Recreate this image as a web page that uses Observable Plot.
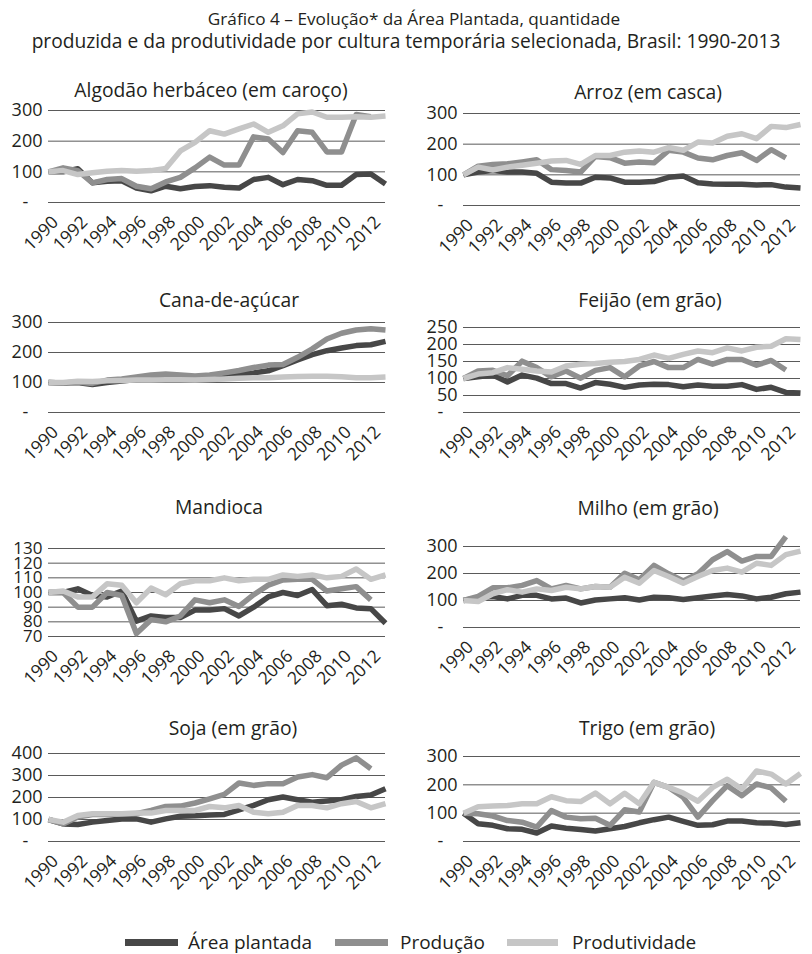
<!DOCTYPE html>
<html>
<head>
<meta charset="utf-8">
<script src="https://cdn.jsdelivr.net/npm/d3@7"></script>
<script src="https://cdn.jsdelivr.net/npm/@observablehq/plot@0.6"></script>
<style>
  body { margin: 0; background: #fff; }
  #root { position: relative; width: 812px; height: 954px; background: #fff; font-family: "Open Sans", sans-serif; color: #231f20; overflow: hidden; }
  .abs { position: absolute; white-space: nowrap; }
  .ctr { transform: translate(-50%, -50%); line-height: 1; }
  .sw { position: absolute; height: 7px; }
</style>
</head>
<body>
<div id="root"></div>
<script>
// ---------- DATA ----------
const years = [1990,1991,1992,1993,1994,1995,1996,1997,1998,1999,2000,2001,2002,2003,2004,2005,2006,2007,2008,2009,2010,2011,2012,2013];
const yearTicks = [1990,1992,1994,1996,1998,2000,2002,2004,2006,2008,2010,2012];
const seriesNames = ["Área plantada", "Produção", "Produtividade"];
const seriesColors = ["#474747", "#8f8f8f", "#c6c6c6"];

const mainTitle1 = "Gráfico 4 – Evolução* da Área Plantada, quantidade";
const mainTitle2 = "produzida e da produtividade por cultura temporária selecionada, Brasil: 1990-2013";

const algodaoArea = [100,100,110,64,69,71,47,38,53,45,52,55,50,47,75,82,58,75,71,56,56,91,93,60];
const algodaoProducao = [100,113,104,64,75,78,53,45,67,82,113,148,122,122,214,207,163,234,229,165,165,287,280];
const algodaoProdutividade = [100,104,91,97,102,104,102,104,111,168,196,234,223,240,256,229,250,289,295,278,278,280,278,282];

const arrozArea = [100,109,114,109,109,105,76,73,73,92,90,76,76,78,92,96,74,70,69,69,67,68,60,57];
const arrozProducao = [100,128,134,136,142,149,117,114,109,160,156,138,142,139,180,174,155,149,163,172,147,182,155];
const arrozProdutividade = [100,125,116,125,131,138,145,147,134,163,163,174,178,174,189,180,207,204,226,234,218,258,254,264];

const canaArea = [100,98,100,93,100,105,110,112,113,113,114,120,122,128,132,139,156,175,193,206,215,223,226,237];
const canaProducao = [100,98,102,97,108,112,118,125,128,125,122,125,132,140,150,158,160,184,212,245,264,275,279,275];
const canaProdutividade = [100,100,104,103,106,107,108,108,109,109,108,110,112,114,116,116,118,120,121,121,119,116,116,118];

const feijaoArea = [100,105,110,90,110,101,85,85,72,88,83,74,81,83,82,76,81,77,77,82,68,74,59,57];
const feijaoProducao = [100,122,124,108,151,132,105,122,101,124,132,105,137,150,132,132,156,142,156,156,139,153,125];
const feijaoProdutividade = [100,113,117,132,127,122,119,137,142,144,148,150,156,169,159,171,181,176,190,181,192,195,217,215];

const mandiocaArea = [100,100,102.5,98,97,101,80.5,84,83,83,88,88,89,84,90,97,100,98,102,91,92,89.5,89,79];
const mandiocaProducao = [100,100,90,90,100,98,72,81.5,80,84,95,93,95,90.5,98.5,105,108.6,109,109,101,102.5,104,95];
const mandiocaProdutividade = [100,101,97,97,106,105,93,103,98.5,106,108,108,110,108,109,109,112,111,112,110,111,116,109,112];

const milhoArea = [100,110,115,106,119,119,106,109,91,102,106,110,102,112,110,104,110,117,122,117,106,112,125,131];
const milhoProducao = [100,115,147,147,156,174,143,156,143,152,149,201,177,230,199,172,199,251,281,246,263,263,337];
const milhoProdutividade = [100,96,125,140,131,143,137,149,143,152,149,186,164,211,189,164,189,211,220,205,238,230,270,283];

const sojaArea = [100,80,77,88,95,102,103,88,103,115,117,121,123,144,164,190,202,190,179,184,190,205,211,240];
const sojaProducao = [100,80,111,123,123,126,126,141,159,161,175,194,214,266,255,263,263,293,304,290,347,380,331];
const sojaProdutividade = [100,88,118,126,126,126,129,129,141,141,141,159,153,164,133,126,133,164,164,153,172,182,153,172];

const trigoArea = [100,63,57,45,43,30,55,47,42,37,45,53,66,77,86,71,57,59,72,72,66,65,60,66];
const trigoProducao = [100,98,90,74,68,51,109,86,80,82,57,112,104,209,191,156,86,144,197,162,203,189,142];
const trigoProdutividade = [100,123,125,127,133,133,158,144,141,171,133,170,133,209,191,171,142,191,220,185,249,238,203,240];

const panels = [
  {title: "Algodão herbáceo (em caroço)", series: [algodaoArea, algodaoProducao, algodaoProdutividade], ticks: [0,100,200,300], side: "left", top: 110, bottom: 202, tx: 211, ty: 90},
  {title: "Arroz (em casca)", series: [arrozArea, arrozProducao, arrozProdutividade], ticks: [0,100,200,300], side: "right", top: 113, bottom: 205, tx: 648, ty: 92},
  {title: "Cana-de-açúcar", series: [canaArea, canaProducao, canaProdutividade], ticks: [0,100,200,300], side: "left", top: 322, bottom: 412, tx: 229, ty: 300},
  {title: "Feijão (em grão)", series: [feijaoArea, feijaoProducao, feijaoProdutividade], ticks: [0,50,100,150,200,250], side: "right", top: 327, bottom: 412, tx: 650, ty: 300},
  {title: "Mandioca", series: [mandiocaArea, mandiocaProducao, mandiocaProdutividade], ticks: [70,80,90,100,110,120,130], side: "left", top: 548, bottom: 636, tx: 219, ty: 507, noDash: true},
  {title: "Milho (em grão)", series: [milhoArea, milhoProducao, milhoProdutividade], ticks: [0,100,200,300], side: "right", top: 546, bottom: 627, tx: 648, ty: 508},
  {title: "Soja (em grão)", series: [sojaArea, sojaProducao, sojaProdutividade], ticks: [0,100,200,300,400], side: "left", top: 753, bottom: 841, tx: 233, ty: 728},
  {title: "Trigo (em grão)", series: [trigoArea, trigoProducao, trigoProdutividade], ticks: [0,100,200,300], side: "right", top: 756, bottom: 841, tx: 647, ty: 728}
];

// ---------- RENDER ----------
const root = document.getElementById("root");
function addText(txt, x, y, size, extra) {
  const d = document.createElement("div");
  d.className = "abs ctr";
  d.textContent = txt;
  d.style.left = x + "px";
  d.style.top = y + "px";
  d.style.fontSize = size + "px";
  if (extra) Object.assign(d.style, extra);
  root.appendChild(d);
  return d;
}

addText(mainTitle1, 414, 19, 17.2);
addText(mainTitle2, 406, 41, 19.2);

const mTop = 12, mBottom = 62;
for (const p of panels) {
  const rows = [];
  p.series.forEach((vals, si) => {
    vals.forEach((v, i) => rows.push({year: years[i], value: v, serie: seriesNames[si]}));
  });
  const left = p.side === "left" ? 0 : 400;
  const width = p.side === "left" ? 400 : 412;
  const marginLeft = p.side === "left" ? 48 : 63;
  const marginRight = p.side === "left" ? 15 : 12;
  const height = (p.bottom - p.top) + mTop + mBottom;
  const lo = p.ticks[0], hi = p.ticks[p.ticks.length - 1];
  const labelTicks = p.noDash ? p.ticks : p.ticks.filter(t => t !== 0);
  const yFont = p.noDash ? 17 : 18;
  const marks = [
    Plot.gridY(p.ticks, {stroke: "#5a5a5a", strokeOpacity: 1, strokeWidth: 1}),
    Plot.axisY({ticks: labelTicks, tickSize: 0, tickPadding: 6, fontSize: yFont, tickFormat: d => String(d)}),
    Plot.text(yearTicks, {x: d => d, text: d => String(d), frameAnchor: "bottom", rotate: -45, textAnchor: "end", lineAnchor: "top", dx: 2, dy: 12, fontSize: 17.5}),
    Plot.line(rows, {x: "year", y: "value", z: "serie", stroke: "serie", strokeWidth: 5.5, strokeLinejoin: "round", strokeLinecap: "butt"})
  ];
  if (!p.noDash) {
    marks.push(Plot.text([0], {y: d => d, text: () => "-", frameAnchor: "left", dx: -23, fontSize: 18, textAnchor: "middle"}));
  }
  const svg = Plot.plot({
    width, height,
    marginLeft, marginRight, marginTop: mTop, marginBottom: mBottom,
    x: {domain: [1990, 2013], label: null, axis: null},
    y: {domain: [lo, hi], label: null},
    color: {domain: seriesNames, range: seriesColors},
    style: {fontFamily: "'Open Sans', sans-serif", color: "#231f20", background: "transparent", overflow: "visible"},
    marks
  });
  svg.style.position = "absolute";
  svg.style.left = left + "px";
  svg.style.top = (p.top - mTop) + "px";
  root.appendChild(svg);
  addText(p.title, p.tx, p.ty, 19.3);
}

// legend
const legendItems = [
  {sw: [125, 178], tx: 188},
  {sw: [335, 388], tx: 400},
  {sw: [507, 558], tx: 572}
];
legendItems.forEach((it, i) => {
  const s = document.createElement("div");
  s.className = "sw";
  s.style.left = it.sw[0] + "px";
  s.style.width = (it.sw[1] - it.sw[0]) + "px";
  s.style.top = (942 - 3.5) + "px";
  s.style.background = seriesColors[i];
  root.appendChild(s);
  const t = document.createElement("div");
  t.className = "abs";
  t.textContent = seriesNames[i];
  t.style.left = it.tx + "px";
  t.style.top = "942px";
  t.style.transform = "translateY(-50%)";
  t.style.lineHeight = "1";
  t.style.fontSize = "19px";
  root.appendChild(t);
});
</script>
</body>
</html>
